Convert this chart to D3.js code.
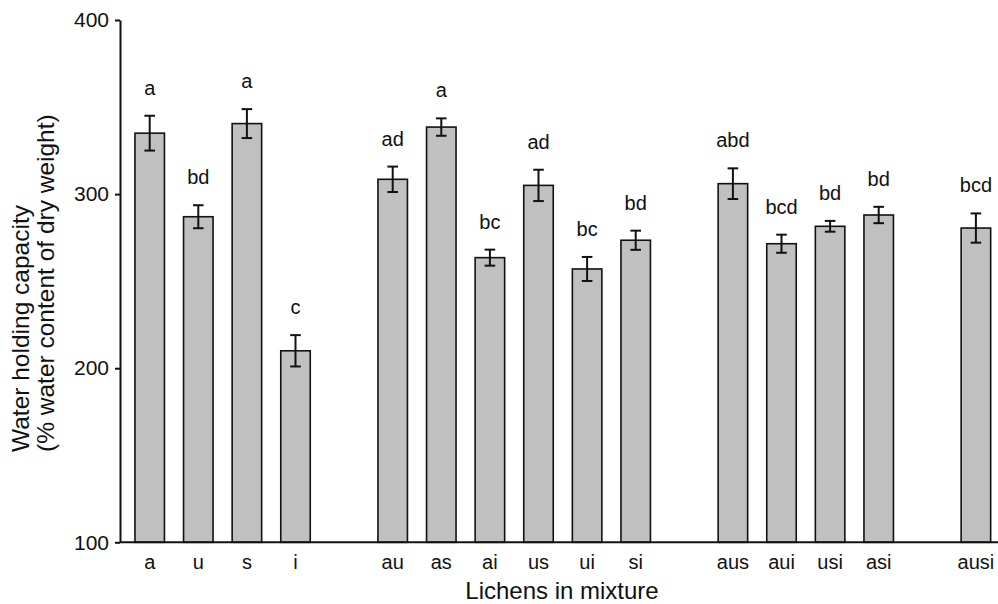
<!DOCTYPE html>
<html>
<head>
<meta charset="utf-8">
<script src="https://cdn.jsdelivr.net/npm/d3@7/dist/d3.min.js"></script>
<style>
  html, body { margin: 0; padding: 0; background: #fff; }
  svg { display: block; font-family: "Liberation Sans", Arial, Helvetica, sans-serif; }
</style>
</head>
<body>
<svg id="chart" width="998" height="604"></svg>
<script>
// Lichen combinations (a, u, s, i) and their mixtures
const categories = ["a", "u", "s", "i", "au", "as", "ai", "us", "ui", "si", "aus", "aui", "usi", "asi", "ausi"];
// Number of species in the mixture minus one: bars are grouped by this
const groups = [0, 0, 0, 0, 1, 1, 1, 1, 1, 1, 2, 2, 2, 2, 3];
// Mean water holding capacity (% water content of dry weight)
const means = [335, 287, 340.5, 210, 308.5, 338.5, 263.5, 305, 257, 273.5, 306, 271.5, 281.5, 288, 280.5];
// Standard error of the mean
const errors = [10, 6.6, 8.3, 9, 7.3, 5, 4.6, 9, 6.9, 5.5, 8.8, 5.2, 3.1, 4.7, 8.4];
// Significance letters
const letters = ["a", "bd", "a", "c", "ad", "a", "bc", "ad", "bc", "bd", "abd", "bcd", "bd", "bd", "bcd"];
const yTicks = [100, 200, 300, 400];

const svg = d3.select("#chart");

const plotLeft = 120, plotBottom = 542.3, plotTop = 20;
// one empty slot separates each group of mixtures
const slots = categories.map((c, i) => i + groups[i]);
const nSlots = d3.max(slots) + 1;

const x = d3.scaleBand()
  .domain(d3.range(nSlots))
  .range([125.4, 125.4 + nSlots * 48.6])
  .paddingInner(0.393)
  .paddingOuter(0.1965);

const y = d3.scaleLinear().domain([100, 400]).range([plotBottom, plotTop]);

// bars
svg.append("g").selectAll("rect")
  .data(categories)
  .join("rect")
  .attr("x", (d, i) => x(slots[i]))
  .attr("y", (d, i) => y(means[i]))
  .attr("width", x.bandwidth())
  .attr("height", (d, i) => y(100) - y(means[i]))
  .attr("fill", "#c0c0c0")
  .attr("stroke", "#111")
  .attr("stroke-width", 1.6);

// error bars
const capHalf = 5.3;
const eb = svg.append("g").attr("stroke", "#111").attr("stroke-width", 2).attr("fill", "none");
categories.forEach((c, i) => {
  const cx = x(slots[i]) + x.bandwidth() / 2;
  const y1 = y(means[i] + errors[i]), y0 = y(means[i] - errors[i]);
  eb.append("line").attr("x1", cx).attr("x2", cx).attr("y1", y1).attr("y2", y0);
  eb.append("line").attr("x1", cx - capHalf).attr("x2", cx + capHalf).attr("y1", y1).attr("y2", y1);
  eb.append("line").attr("x1", cx - capHalf).attr("x2", cx + capHalf).attr("y1", y0).attr("y2", y0);
});

// significance letters above the error bars
svg.append("g").selectAll("text")
  .data(letters)
  .join("text")
  .attr("x", (d, i) => x(slots[i]) + x.bandwidth() / 2)
  .attr("y", (d, i) => y(means[i] + errors[i]) - 21)
  .attr("text-anchor", "middle")
  .attr("font-size", 20)
  .attr("fill", "#111")
  .text(d => d);

// y axis
const yAxis = svg.append("g")
  .attr("transform", `translate(${plotLeft},0)`)
  .call(d3.axisLeft(y).tickValues(yTicks).tickSize(5).tickSizeOuter(0).tickPadding(6));
yAxis.select(".domain").attr("stroke", "#111").attr("stroke-width", 2);
yAxis.selectAll(".tick line").attr("stroke", "#111").attr("stroke-width", 2);
yAxis.selectAll(".tick text").attr("font-size", 21).attr("fill", "#111")
  .attr("font-family", "Liberation Sans, Arial, sans-serif");

// x axis: baseline across the full width, labels under each bar
const xAxis = svg.append("g")
  .attr("transform", `translate(0,${plotBottom})`)
  .call(d3.axisBottom(x).tickValues(slots).tickFormat(s => categories[slots.indexOf(s)])
    .tickSize(0).tickPadding(13));
xAxis.select(".domain").remove();
xAxis.selectAll(".tick text").attr("font-size", 20).attr("fill", "#111")
  .attr("font-family", "Liberation Sans, Arial, sans-serif");
svg.append("line")
  .attr("x1", plotLeft).attr("x2", 998)
  .attr("y1", plotBottom).attr("y2", plotBottom)
  .attr("stroke", "#111").attr("stroke-width", 2);

// axis titles
svg.append("text")
  .attr("x", 562).attr("y", 599)
  .attr("text-anchor", "middle")
  .attr("font-size", 24)
  .attr("fill", "#111")
  .text("Lichens in mixture");

const yTitle = svg.append("text")
  .attr("transform", "translate(0,452) rotate(-90)")
  .attr("text-anchor", "start")
  .attr("font-size", 24.5)
  .attr("fill", "#111");
yTitle.append("tspan").attr("x", 0).attr("y", 29).text("Water holding capacity");
yTitle.append("tspan").attr("x", 0).attr("y", 54).text("(% water content of dry weight)");
</script>
</body>
</html>
